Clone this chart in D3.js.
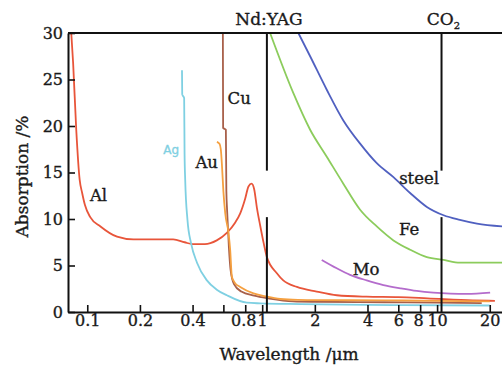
<!DOCTYPE html>
<html>
<head>
<meta charset="utf-8">
<script src="https://cdn.jsdelivr.net/npm/d3@7"></script>
<style>
  body { margin: 0; background: #fff; }
  svg text { font-family: "DejaVu Serif", serif; fill: #1a1a1a; stroke: #1a1a1a; stroke-width: 0.35px; }
</style>
</head>
<body>
<svg id="chart"></svg>
<script>
// Absorption curves, [wavelength µm, absorption %]
const al = [[0.081,30],[0.083,26.8],[0.0865,19.6],[0.0905,14.2],[0.0935,12.8],[0.097,11.5],[0.104,10.2],
  [0.119,9.2],[0.148,8.1],[0.184,7.8],[0.31,7.8],[0.36,7.5],[0.40,7.3],[0.47,7.3],[0.55,7.7],[0.628,8.5],
  [0.70,9.6],[0.749,10.6],[0.80,12.2],[0.835,13.5],[0.87,13.8],[0.90,13.2],[0.933,11.2],[0.974,9.3],
  [1.02,7.4],[1.064,5.9],[1.21,4.2],[1.32,3.4],[1.58,2.7],[2.05,2.2],[2.67,1.8],[3.95,1.65],[6,1.6],
  [8.8,1.47],[16,1.25],[21.4,1.2]];
const ag = [[0.348,26],[0.349,23.4],[0.358,23.0],[0.360,17],[0.363,14.2],[0.374,9.9],[0.392,7.4],[0.424,5.3],
  [0.483,3.4],[0.55,2.4],[0.628,1.8],[0.818,1.0],[0.974,0.93],[1.65,0.85],[5.6,0.75],[20,0.7]];
const au = [[0.551,18.3],[0.57,18.1],[0.58,17.5],[0.588,16],[0.60,13],[0.615,10.6],[0.642,8.5],[0.656,6.7],
  [0.671,3.8],[0.70,3.1],[0.749,2.7],[0.892,2.0],[1.064,1.65],[1.27,1.4],[1.6,1.3],[2,1.28],[5,1.25],[10,1.2],[20,1.15]];
const cu = [[0.596,30],[0.598,19.8],[0.62,19.6],[0.624,13],[0.63,11],[0.645,7],[0.66,4.5],[0.69,3.0],
  [0.76,2.2],[0.9,1.75],[1.1,1.45],[1.5,1.15],[2,1.1],[5,1.05],[10,1.0],[18,0.95]];
const fe = [[1.11,30],[1.51,23.5],[1.88,19.6],[2.34,16.7],[2.91,13.8],[3.63,11],[4.52,9.2],[5.63,7.7],
  [7.01,6.7],[8.74,5.9],[10.9,5.6],[13.5,5.3],[23.5,5.3]];
const steel = [[1.61,30],[1.88,27.5],[2.34,23.9],[2.91,20.6],[3.63,18.1],[4.52,16],[5.63,14.5],[7.01,12.8],
  [8.74,11.3],[10.9,10.4],[13.5,9.9],[16.9,9.5],[23.5,9.2]];
const mo = [[2.19,5.6],[2.67,4.7],[3.18,4.0],[3.96,3.4],[4.93,2.9],[6.16,2.55],[7.66,2.26],[9.52,2.08],
  [11.9,1.98],[14.8,1.95],[20.1,2.08]];

const curves = [
  {name: "Al", pts: al, color: "#e8553a"},
  {name: "Ag", pts: ag, color: "#7fd0e2"},
  {name: "Cu", pts: cu, color: "#a8604a"},
  {name: "Au", pts: au, color: "#f5a040"},
  {name: "Mo", pts: mo, color: "#b46ccc"},
  {name: "Fe", pts: fe, color: "#8ccc5c"},
  {name: "steel", pts: steel, color: "#5060c0"}
];

// label anchors [wavelength, absorption]
const curveLabels = [
  {text: "Al", at: [0.116, 11.9]},
  {text: "Au", at: [0.482, 15.5]},
  {text: "Cu", at: [0.739, 22.4]},
  {text: "steel", at: [7.89, 13.8]},
  {text: "Fe", at: [6.92, 8.3]},
  {text: "Mo", at: [3.93, 4.0]}
];
const agLabel = {text: "Ag", at: [0.302, 17]};

// laser lines and the gap in them
const lasers = [{name: "Nd:YAG", wl: 1.064}, {name: "CO", sub: "2", wl: 10.6}];
const laserGap = [10.2, 15.2];

const xTicks = [0.1, 0.2, 0.4, 0.6, 0.8, 1, 2, 4, 6, 8, 10, 20];
const xTickLabels = ["0.1", "0.2", "0.4", "", "0.8", "1", "2", "4", "6", "8", "10", "20"];
const yTicks = [0, 5, 10, 15, 20, 25, 30];

const W = 502, H = 368;
const margin = {top: 33, right: 0, bottom: 56, left: 68};

const svg = d3.select("#chart").attr("width", W).attr("height", H);

const x = d3.scaleLog().domain([0.0776, 23.5]).range([margin.left, W - margin.right]);
const y = d3.scaleLinear().domain([0, 30]).range([H - margin.bottom, margin.top]);

// curves
const line = d3.line()
    .x(d => x(d[0]))
    .y(d => y(d[1]))
    .curve(d3.curveMonotoneX);

svg.append("g").selectAll("path")
  .data(curves)
  .join("path")
    .attr("fill", "none")
    .attr("stroke", d => d.color)
    .attr("stroke-width", 1.8)
    .attr("d", d => line(d.pts));

// laser marker lines
lasers.forEach(l => {
  svg.append("line")
      .attr("x1", x(l.wl)).attr("x2", x(l.wl))
      .attr("y1", y(30)).attr("y2", y(laserGap[1]))
      .attr("stroke", "#111").attr("stroke-width", 2);
  svg.append("line")
      .attr("x1", x(l.wl)).attr("x2", x(l.wl))
      .attr("y1", y(laserGap[0])).attr("y2", y(0))
      .attr("stroke", "#111").attr("stroke-width", 2);
  const t = svg.append("text")
      .attr("x", x(l.wl) + (l.sub ? 2 : 2))
      .attr("y", margin.top - 8)
      .attr("text-anchor", "middle")
      .style("font-size", "17px")
      .text(l.name);
  if (l.sub) {
    t.append("tspan")
        .attr("dy", 4)
        .style("font-size", "10px")
        .text(l.sub);
  }
});

// axes
const xAxis = svg.append("g")
    .attr("transform", `translate(0,${y(0)})`)
    .call(d3.axisBottom(x)
      .tickValues(xTicks)
      .tickFormat((d, i) => xTickLabels[i])
      .tickSizeInner(-7)
      .tickSizeOuter(0)
      .tickPadding(3));

const yAxis = svg.append("g")
    .attr("transform", `translate(${x.range()[0]},0)`)
    .call(d3.axisLeft(y)
      .tickValues(yTicks)
      .tickSizeInner(-7)
      .tickSizeOuter(0)
      .tickPadding(5));

[xAxis, yAxis].forEach(a => {
  a.select(".domain").attr("stroke", "#111").attr("stroke-width", 2);
  a.selectAll(".tick line").attr("stroke", "#111").attr("stroke-width", 1.6);
  a.selectAll(".tick text")
      .style("font-family", "DejaVu Serif, serif")
      .style("font-size", "16px")
      .attr("fill", "#1a1a1a");
});
// keep "0.8" and "8" clear of their neighbours
xAxis.selectAll(".tick text").filter(d => d === 0.8 || d === 8).attr("dx", -2);

// top frame line
svg.append("line")
    .attr("x1", x.range()[0]).attr("x2", x.range()[1])
    .attr("y1", y(30)).attr("y2", y(30))
    .attr("stroke", "#111").attr("stroke-width", 2);

// curve labels
svg.append("g").selectAll("text")
  .data(curveLabels)
  .join("text")
    .attr("x", d => x(d.at[0]))
    .attr("y", d => y(d.at[1]))
    .attr("text-anchor", "middle")
    .style("font-size", "16.5px")
    .text(d => d.text);

svg.append("text")
    .attr("x", x(agLabel.at[0]))
    .attr("y", y(agLabel.at[1]))
    .attr("text-anchor", "middle")
    .style("font-family", "DejaVu Sans, sans-serif")
    .style("font-size", "12px")
    .style("fill", "#7fd0e2")
    .style("stroke", "#7fd0e2")
    .text(agLabel.text);

// axis titles
svg.append("text")
    .attr("x", 289)
    .attr("y", 360)
    .attr("text-anchor", "middle")
    .style("font-size", "17px")
    .text("Wavelength /μm");

svg.append("text")
    .attr("transform", `translate(28,${(y(0) + y(30)) / 2 + 4}) rotate(-90)`)
    .attr("text-anchor", "middle")
    .style("font-size", "17px")
    .text("Absorption /%");
</script>
</body>
</html>
